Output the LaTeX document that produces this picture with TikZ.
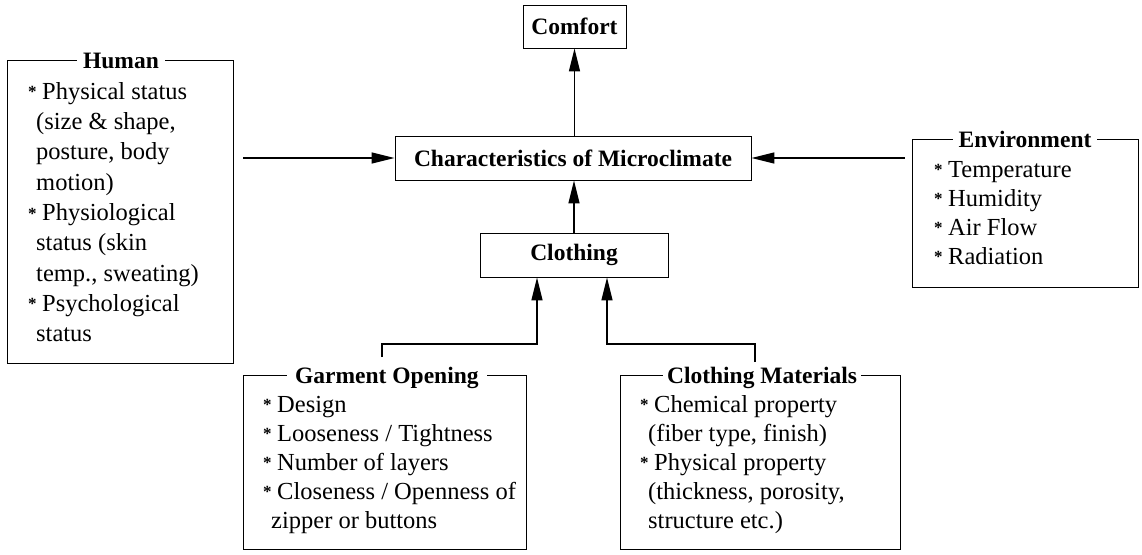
\documentclass[tikz,border=0pt]{standalone}
\usepackage{fontspec}
\setmainfont{Liberation Serif}
\usetikzlibrary{arrows.meta,calc}
\newcommand\mybul[1]{\makebox[14pt][l]{\raisebox{1.5pt}{\fontsize{17}{17}\selectfont\bfseries *}}#1}
\newcommand\mycont[1]{\hspace{8pt}#1}
\tikzset{
  box/.style={draw, line width=0.85pt, inner sep=0pt},
  cbox/.style={box, font=\fontsize{23.5}{28}\selectfont\bfseries},
  ttl/.style={fill=white, inner xsep=6pt, inner ysep=1pt, anchor=base,
     font=\fontsize{23.5}{28}\selectfont\bfseries},
  ln/.style={anchor=base west, inner sep=0pt, font=\fontsize{24.5}{30}\selectfont},
  arr/.style={line width=1.3pt, -{Triangle[length=23pt,width=11pt]}}
}
\begin{document}
\begin{tikzpicture}[x=1pt,y=-1pt]
\useasboundingbox (0,0) rectangle (1142,554);
% main boxes
\node[cbox, minimum width=103pt, minimum height=43pt] (comfort) at (574.5,26.5) {Comfort};
\node[cbox, minimum width=356pt, minimum height=44pt] (char) at (573,158) {Characteristics of Microclimate};
\node[cbox, minimum width=188pt, minimum height=44pt] (clothing) at (574,255) {Clothing};
% grouped boxes
\node[box, minimum width=226pt, minimum height=303pt] (human) at (120,211.5) {};
\node[box, minimum width=226pt, minimum height=148pt] (env) at (1025,213) {};
\node[box, minimum width=283pt, minimum height=174pt] (garm) at (384.5,462) {};
\node[box, minimum width=280pt, minimum height=174pt] (mat) at (760,462) {};
% titles
\node[ttl] (humant) at (121,68) {Human};
\node[ttl] (envt) at (1025,147) {Environment};
\node[ttl, anchor=base west, inner xsep=8pt] (garmt) at (287,383) {Garment Opening\hspace{11pt}};
\node[ttl, inner xsep=4pt] (matt) at (762,383) {Clothing Materials};
% human lines
\foreach \t [count=\i] in {{\mybul{Physical status}},{\mycont{(size \& shape,}},
  {\mycont{posture, body}},{\mycont{motion)}},{\mybul{Physiological}},
  {\mycont{status (skin}},{\mycont{temp., sweating)}},{\mybul{Psychological}},
  {\mycont{status}}}
  \node[ln] (hl\i) at (28,{69+30.3*\i}) {\t};
% environment lines
\foreach \t [count=\i] in {{\mybul{Temperature}},{\mybul{Humidity}},{\mybul{Air Flow}},{\mybul{Radiation}}}
  \node[ln] (el\i) at (934,{148+29*\i}) {\t};
% garment lines
\foreach \t [count=\i] in {{\mybul{Design}},{\mybul{Looseness / Tightness}},{\mybul{Number of layers}},
  {\mybul{Closeness / Openness of}},{\mycont{zipper or buttons}}}
  \node[ln] (gl\i) at (263,{383+29*\i}) {\t};
% material lines
\foreach \t [count=\i] in {{\mybul{Chemical property}},{\mycont{(fiber type, finish)}},
  {\mybul{Physical property}},{\mycont{(thickness, porosity,}},{\mycont{structure etc.)}}}
  \node[ln] (ml\i) at (640,{383+29*\i}) {\t};
% connectors
\coordinate (gs) at (382,357);
\coordinate (ms) at (755,362);
\draw[arr] (char.north -| comfort.south) -- (comfort.south);
\draw[arr] (clothing.north) -- (clothing.north |- char.south);
\draw[arr] ([xshift=10pt]human.east |- char.west) -- (char.west);
\draw[arr] ([xshift=-7pt]env.west |- char.east) -- (char.east);
\draw[arr] (gs) -- ++(0,-13) -| ([xshift=-37pt]clothing.south);
\draw[arr] (ms) -- ++(0,-18) -| ([xshift=33pt]clothing.south);
\end{tikzpicture}
\end{document}
